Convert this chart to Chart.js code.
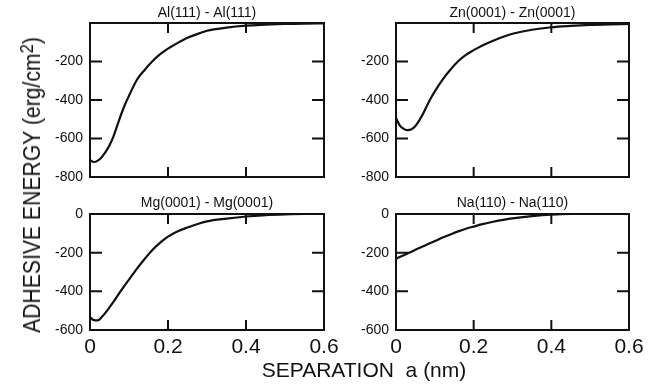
<!DOCTYPE html>
<html>
<head>
<meta charset="utf-8">
<script src="https://cdn.jsdelivr.net/npm/chart.js@4/dist/chart.umd.min.js"></script>
<style>
  html, body { margin: 0; padding: 0; background: #fff; }
  #wrap { position: relative; width: 652px; height: 385px; overflow: hidden; background: #fff;
          font-family: "Liberation Sans", Arial, Helvetica, sans-serif; color: #111; }
  canvas { position: absolute; }
  #ytitle { position: absolute; left: -148px; top: 172px; width: 360px; height: 26px; line-height: 26px;
            text-align: center; font-size: 23px; white-space: nowrap;
            transform: rotate(-90deg) scaleX(0.92); z-index: 5; }
  #ytitle sup { font-size: 18px; vertical-align: 7px; line-height: 0; }
  #xtitle { position: absolute; left: 164px; top: 359px; width: 400px; line-height: 21px;
            text-align: center; font-size: 21px; white-space: pre; z-index: 5; }
</style>
</head>
<body>
<div id="wrap">
  <canvas id="cAl" width="345" height="195" style="left:0;top:0"></canvas>
  <canvas id="cZn" width="342" height="195" style="left:310px;top:0"></canvas>
  <canvas id="cMg" width="345" height="195" style="left:0;top:190px"></canvas>
  <canvas id="cNa" width="342" height="195" style="left:310px;top:190px"></canvas>
  <div id="ytitle">ADHESIVE ENERGY (erg/cm<sup>2</sup>)</div>
  <div id="xtitle">SEPARATION  a (nm)</div>
</div>
<script>
// ---- data ----
const separation = [0, 0.01, 0.02, 0.03, 0.04, 0.05, 0.06, 0.07, 0.08, 0.09, 0.10, 0.12, 0.14, 0.16, 0.18,
                    0.20, 0.22, 0.25, 0.28, 0.30, 0.35, 0.40, 0.45, 0.50, 0.55, 0.60];
const energyAl = [-712, -722, -715, -697, -670, -635, -590, -532, -474, -422, -378, -296, -244, -199, -162,
                  -133, -109, -76, -54, -40, -24, -14, -9, -5, -3, -2];
const energyZn = [-494, -533, -550, -557, -552, -535, -506, -470, -428, -390, -355, -294, -243, -199, -166,
                  -141, -119, -92, -69, -56, -35, -22, -15, -10, -7, -5];
const energyMg = [-534, -549, -550, -533, -510, -483, -455, -425, -395, -367, -339, -284, -233, -186, -148,
                  -117, -94, -70, -49, -38, -24, -13, -6, -2, 0, 0];
const energyNa = [-231, -222, -213, -204, -195, -185, -176, -167, -158, -149, -140, -122, -106, -90, -76,
                  -65, -54, -40, -29, -23, -11, -3, 0, 0, 0, 0];
const panelTitles = ['Al(111) - Al(111)', 'Zn(0001) - Zn(0001)', 'Mg(0001) - Mg(0001)', 'Na(110) - Na(110)'];
const xRange = [0, 0.6];
const xStep = 0.2;
const yRangeTop = [-800, 0];
const yRangeBottom = [-600, 0];
const yStep = 200;

const FONT = '"Liberation Sans", Arial, Helvetica, sans-serif';
const INK = '#111';

const frameTicks = {
  id: 'frameTicks',
  afterDatasetsDraw(chart) {
    const { ctx, chartArea: { left, right, top, bottom }, scales: { x, y } } = chart;
    ctx.save();
    ctx.strokeStyle = INK;
    ctx.lineWidth = 2;
    ctx.beginPath();
    x.ticks.forEach(t => {
      if (t.value <= x.min + 1e-9 || t.value >= x.max - 1e-9) return;
      const px = x.getPixelForValue(t.value);
      ctx.moveTo(px, top); ctx.lineTo(px, top + 10);
      ctx.moveTo(px, bottom); ctx.lineTo(px, bottom - 10);
    });
    y.ticks.forEach(t => {
      if (t.value <= y.min || t.value >= y.max) return;
      const py = y.getPixelForValue(t.value);
      ctx.moveTo(left, py); ctx.lineTo(left + 12, py);
      ctx.moveTo(right, py); ctx.lineTo(right - 12, py);
    });
    ctx.stroke();
    ctx.strokeRect(left, top, right - left, bottom - top);
    ctx.restore();
  }
};

function makePanel(id, energy, title, yRange, opts) {
  const pts = separation.map((s, i) => ({ x: s, y: energy[i] }));
  return new Chart(document.getElementById(id), {
    type: 'line',
    data: { datasets: [{ data: pts, borderColor: INK, borderWidth: 2.2, pointRadius: 0,
                         fill: false, cubicInterpolationMode: 'monotone' }] },
    options: {
      responsive: false, animation: false, devicePixelRatio: 1,
      layout: { padding: { left: 0, right: opts.padRight, top: 0, bottom: 0 } },
      plugins: {
        legend: { display: false }, tooltip: { enabled: false },
        title: { display: true, text: title, color: INK, fullSize: false,
                 font: { family: FONT, size: 14, weight: 'normal', lineHeight: 1 },
                 padding: { top: 6, bottom: opts.titleBottom } }
      },
      scales: {
        x: {
          type: 'linear', min: xRange[0], max: xRange[1],
          grid: { display: false, drawTicks: false }, border: { display: false },
          ticks: { display: opts.showX, stepSize: xStep, color: INK, padding: 5,
                   maxRotation: 0, autoSkip: false,
                   font: { family: FONT, size: 21 } },
          afterFit: s => { s.height = opts.xHeight; }
        },
        y: {
          type: 'linear', min: yRange[0], max: yRange[1],
          grid: { display: false, drawTicks: false }, border: { display: false },
          ticks: { stepSize: yStep, color: INK, padding: 7,
                   font: { family: FONT, size: 14 },
                   callback: (v) => (opts.hideZero && v === 0) ? '' : String(v) },
          afterFit: s => { s.width = opts.yWidth; }
        }
      }
    },
    plugins: [frameTicks]
  });
}

makePanel('cAl', energyAl, panelTitles[0], yRangeTop,
  { padRight: 21, yWidth: 90, xHeight: 18, showX: false, hideZero: true, titleBottom: 3 });
makePanel('cZn', energyZn, panelTitles[1], yRangeTop,
  { padRight: 23, yWidth: 86, xHeight: 18, showX: false, hideZero: true, titleBottom: 3 });
makePanel('cMg', energyMg, panelTitles[2], yRangeBottom,
  { padRight: 21, yWidth: 90, xHeight: 55, showX: true, hideZero: false, titleBottom: 4 });
makePanel('cNa', energyNa, panelTitles[3], yRangeBottom,
  { padRight: 23, yWidth: 86, xHeight: 55, showX: true, hideZero: false, titleBottom: 4 });
</script>
</body>
</html>
